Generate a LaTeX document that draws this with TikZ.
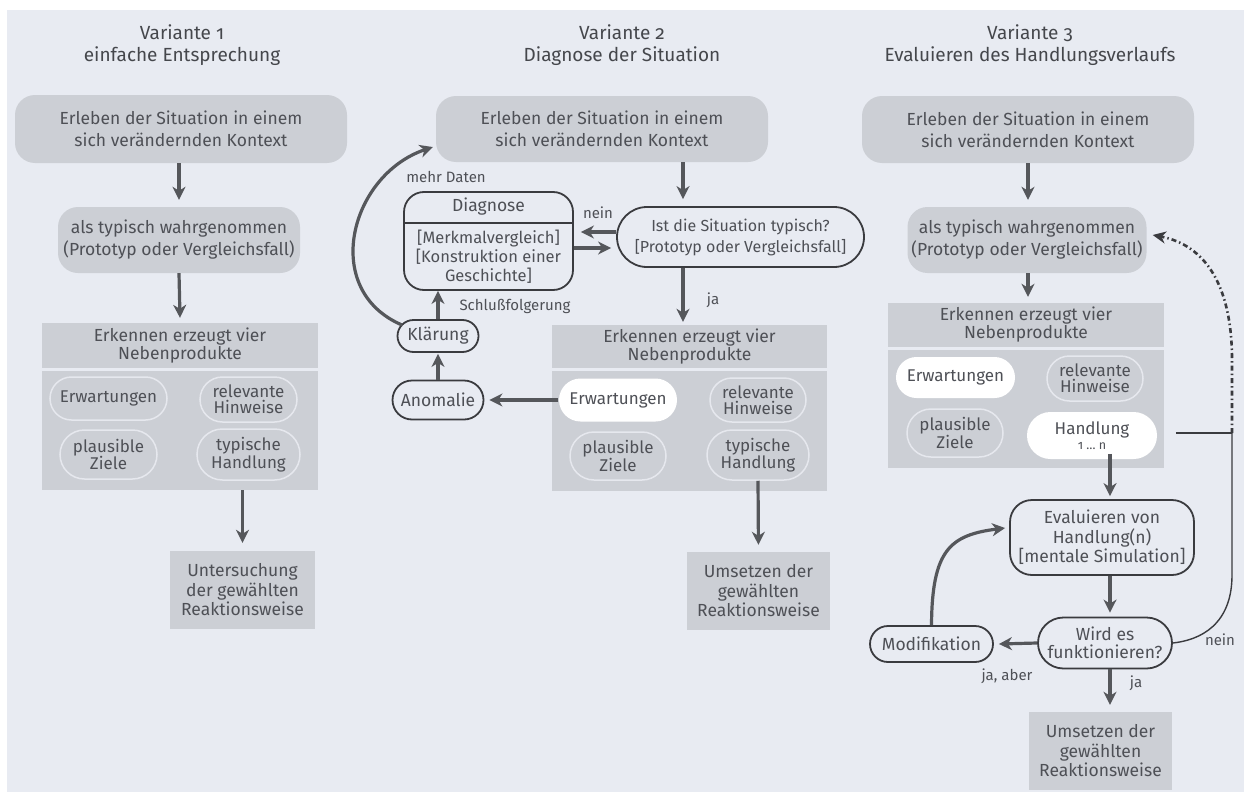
\documentclass[tikz,border=0pt]{standalone}
\usepackage{fontspec}
\setmainfont{Fira Sans}
\usetikzlibrary{arrows.meta,shapes.misc}
\definecolor{bg}{HTML}{E8EBF2}
\definecolor{boxg}{HTML}{CCCFD5}
\definecolor{ovl}{HTML}{E6E8EE}
\definecolor{txt}{HTML}{4E5056}
\definecolor{ttlc}{HTML}{45474C}
\definecolor{arrc}{HTML}{55575B}
\definecolor{lnc}{HTML}{3A3B3F}
\tikzset{
 base/.style={align=center, text=txt, inner sep=0pt, font=\fontsize{17.5}{22}\selectfont},
 gbox/.style={base, fill=boxg},
 rgbox/.style={gbox, rounded corners=20pt},
 oval/.style={base, rounded rectangle, fill=boxg, draw=ovl, line width=1.5pt, font=\fontsize{17}{16}\selectfont},
 woval/.style={oval, fill=white, draw=none},
 obox/.style={base, draw=lnc, line width=1.8pt},
 stad/.style={obox, rounded rectangle},
 arr/.style={draw=arrc, line width=3.2pt, -{Stealth[length=13pt,width=13pt,inset=4pt]}},
 thinl/.style={draw=lnc, line width=1.4pt},
 dd/.style={draw=lnc, line width=2.6pt, dash pattern=on 5pt off 3pt on 1.5pt off 3pt, -{Stealth[length=13pt,width=12pt,inset=4pt]}},
 lab/.style={text=txt, font=\fontsize{15}{16}\selectfont, inner sep=0pt},
 ttl/.style={text=ttlc, align=center, font=\fontsize{19}{22}\selectfont\addfontfeatures{Numbers=OldStyle}, inner sep=0pt},
}
\begin{document}
\begin{tikzpicture}[x=1pt,y=-1pt]
\useasboundingbox (0,0) rectangle (1244,792);
\fill[white] (0,0) rectangle (1244,792);
\fill[bg] (7,10) rectangle (1244,792);

% ---------- titles
\node[ttl] (t1ttl) at (182,45) {Variante 1\\einfache Entsprechung};
\node[ttl] (t2ttl) at (622,45) {Variante 2\\Diagnose der Situation};
\node[ttl] (t3ttl) at (1030,45) {Variante 3\\Evaluieren des Handlungsverlaufs};

% ---------- column 1
\node[rgbox, minimum width=332pt, minimum height=68pt] (e1) at (181,129) {Erleben der Situation in einem\\sich verändernden Kontext};
\node[rgbox, minimum width=242pt, minimum height=66pt] (t1) at (179,240) {als typisch wahrgenommen\\(Prototyp oder Vergleichsfall)};
\node[gbox, minimum width=276pt, minimum height=45pt, font=\fontsize{17.5}{18}\selectfont] (k1h) at (180,345.5) {Erkennen erzeugt vier\\Nebenprodukte};
\node[gbox, minimum width=276pt, minimum height=119pt] (k1l) at (180,430.5) {};
\node[oval, minimum width=117pt, minimum height=43pt] (er1) at (108.5,398.5) {Erwartungen};
\node[oval, minimum width=97pt, minimum height=45pt] (rh1) at (248.5,399.5) {relevante\\Hinweise};
\node[oval, minimum width=97pt, minimum height=49pt] (pz1) at (108.5,454.5) {plausible\\Ziele};
\node[oval, minimum width=103pt, minimum height=51pt] (th1) at (248.5,454.5) {typische\\Handlung};
\node[gbox, minimum width=145pt, minimum height=78pt, font=\fontsize{17.5}{19.5}\selectfont] (u1) at (242.5,590) {Untersuchung\\der gewählten\\Reaktionsweise};

\draw[arr] (e1.south -| t1.north) -- ([yshift=7pt]t1.north);
\draw[arr] (t1.south) -- ([yshift=5pt]k1h.north);
\draw[arr] (k1l.south -| u1.north) -- ([yshift=8pt]u1.north);

% ---------- column 2
\coordinate (c2x) at (683,0);
\node[rgbox, minimum width=332pt, minimum height=66pt] (e2) at (602,129) {Erleben der Situation in einem\\sich verändernden Kontext};
\node[stad, minimum width=247pt, minimum height=60pt, font=\fontsize{16}{21}\selectfont] (ist) at (740.5,237) {Ist die Situation typisch?\\{[}Prototyp oder Vergleichsfall{]}};
\node[obox, rounded corners=20pt, minimum width=169pt, minimum height=98pt] (diag) at (488.5,241) {};
\coordinate (dv) at (0,223);
\draw[draw=lnc, line width=1.8pt] (diag.west |- dv) -- (diag.east |- dv);
\node[base] (dgt) at (488.5,207) {Diagnose};
\node[base, font=\fontsize{16.5}{19}\selectfont] (dgb) at (488.5,257) {{[}Merkmalvergleich{]}\\{[}Konstruktion einer\\Geschichte{]}};
\node[gbox, minimum width=275pt, minimum height=43pt, font=\fontsize{17.5}{18}\selectfont] (k2h) at (689.5,346.5) {Erkennen erzeugt vier\\Nebenprodukte};
\node[gbox, minimum width=275pt, minimum height=120pt] (k2l) at (689.5,431) {};
\node[woval, minimum width=118pt, minimum height=43pt] (er2) at (618,400) {Erwartungen};
\node[oval, minimum width=96pt, minimum height=44pt] (rh2) at (758,400) {relevante\\Hinweise};
\node[oval, minimum width=96pt, minimum height=48pt] (pz2) at (618,456) {plausible\\Ziele};
\node[oval, minimum width=102pt, minimum height=50pt] (th2) at (758,455) {typische\\Handlung};
\node[gbox, minimum width=143pt, minimum height=78pt, font=\fontsize{17.5}{19.5}\selectfont] (u2) at (758.5,591) {Umsetzen der\\gewählten\\Reaktionsweise};
\node[stad, minimum width=91pt, minimum height=39pt] (an) at (438,400) {Anomalie};
\node[stad, minimum width=81pt, minimum height=32pt] (kl) at (438,336) {Klärung};

\draw[arr] (e2.south -| c2x) -- ([yshift=7pt]ist.north -| c2x);
\draw[arr] ([yshift=5pt]ist.west) -- ([xshift=7pt,yshift=9pt]diag.east);
\draw[arr] ([yshift=-7pt]diag.east) -- ([xshift=-5pt,yshift=-11pt]ist.west);
\draw[arr, shorten >=3pt] (ist.south -| c2x) -- (k2h.north -| c2x);
\draw[arr] (er2.west) -- ([xshift=5pt]an.east);
\draw[arr] (an.north) -- ([yshift=-1pt]kl.south);
\draw[arr] (kl.north) -- (kl.north |- diag.south);
\draw[arr] ([xshift=-36pt,yshift=11pt]kl.center) .. controls (320,290) and (350,175) .. ([xshift=-3pt,yshift=-18pt]e2.west);
\draw[arr, shorten >=7pt] (th2.south) -- (u2.north);

\node[lab] (l_mehr) at (446,177) {mehr Daten};
\node[lab] (l_nein2) at (598,213) {nein};
\node[lab] (l_ja2) at (713,300) {ja};
\node[lab] (l_schl) at (515,306) {Schlußfolgerung};

% ---------- column 3
\coordinate (c3x) at (1110,0);
\node[rgbox, minimum width=332pt, minimum height=67pt] (e3) at (1028,129.5) {Erleben der Situation in einem\\sich verändernden Kontext};
\node[rgbox, minimum width=239pt, minimum height=66pt] (t3) at (1027,240) {als typisch wahrgenommen\\(Prototyp oder Vergleichsfall)};
\node[gbox, minimum width=276pt, minimum height=44pt, font=\fontsize{17.5}{18}\selectfont] (k3h) at (1026,325) {Erkennen erzeugt vier\\Nebenprodukte};
\node[gbox, minimum width=276pt, minimum height=118pt] (k3l) at (1026,409) {};
\node[woval, minimum width=119pt, minimum height=41pt] (er3) at (955.5,377.5) {Erwartungen};
\node[oval, minimum width=96pt, minimum height=45pt] (rh3) at (1095,378.5) {relevante\\Hinweise};
\node[oval, minimum width=96pt, minimum height=48pt] (pz3) at (955,433) {plausible\\Ziele};
\node[woval, minimum width=130pt, minimum height=47pt] (hd) at (1092,435.5) {Handlung\\[-1pt]{\fontsize{12.5}{12}\selectfont\addfontfeatures{Numbers=OldStyle}1 … n}};
\node[obox, rounded corners=22pt, minimum width=184pt, minimum height=75pt, font=\fontsize{17.5}{19.5}\selectfont] (ev) at (1102,537.5) {Evaluieren von\\Handlung(n)\\{[}mentale Simulation{]}};
\node[stad, minimum width=134pt, minimum height=51pt, font=\fontsize{17.5}{18}\selectfont] (wi) at (1105,643) {Wird es\\funktionieren?};
\node[stad, minimum width=123pt, minimum height=36pt] (mo) at (931.5,644) {Modifikation};
\node[gbox, minimum width=143pt, minimum height=78pt, font=\fontsize{17.5}{19.5}\selectfont] (u3) at (1100.5,751) {Umsetzen der\\gewählten\\Reaktionsweise};

\draw[arr] (e3.south) -- ([yshift=7pt]t3.north -| e3.south);
\draw[arr, shorten >=6pt] (t3.south -| e3.south) -- (k3h.north -| e3.south);
\coordinate (h3) at ([yshift=6pt]hd.south);
\draw[arr, shorten >=3pt] (h3 -| c3x) -- (ev.north -| c3x);
\draw[arr, shorten >=4pt] (ev.south -| c3x) -- (wi.north -| c3x);
\draw[arr] (wi.west) -- ([xshift=5pt]mo.east);
\draw[arr, shorten >=7pt] (wi.south -| c3x) -- (u3.north -| c3x);
\draw[arr] (mo.north) .. controls (932,550) and (950,535) .. ([xshift=-4pt,yshift=9.5pt]ev.west);

\coordinate (j3) at (1232,433);
\coordinate (h3e) at ([xshift=18pt]hd.east);
\draw[thinl] (wi.east) .. controls (1200,640) and (1232,625) .. (1232,575) -- (j3);
\draw[thinl] (h3e |- j3) -- (j3);
\draw[dd] (j3) -- (1232,360) .. controls (1232,285) and (1205,245) .. ([xshift=6pt,yshift=5pt]t3.east);

\node[lab] (l_jaaber) at (1007,676) {ja, aber};
\node[lab] (l_ja3) at (1136,683) {ja};
\node[lab] (l_nein3) at (1220,640) {nein};
\end{tikzpicture}
\end{document}
